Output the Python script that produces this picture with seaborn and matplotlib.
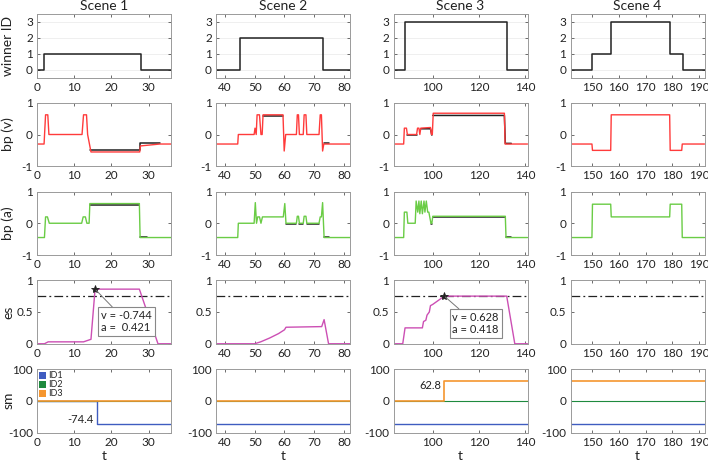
import numpy as np
import pandas as pd
import seaborn as sns
import matplotlib.pyplot as plt
from matplotlib.patches import Patch

scenes = ['Scene 1', 'Scene 2', 'Scene 3', 'Scene 4']
xlims = [(0, 36), (37, 82), (83, 141), (142, 192)]
xticks = [[0, 10, 20, 30], [40, 50, 60, 70, 80], [100, 120, 140], [150, 160, 170, 180, 190]]

# winner ID (step)
win_t = [[0, 2, 28, 36], [37, 45, 73, 82], [83, 88, 132, 141], [142, 150, 157, 179, 184, 192]]
win_v = [[0, 1, 0, 0], [0, 2, 0, 0], [0, 3, 0, 0], [0, 1, 3, 1, 0, 0]]

# bp (v) - red
bpv_t = [[0, 1.9, 2.3, 2.9, 3.2, 12.1, 12.5, 13.3, 13.6, 14.5, 27.6, 27.8, 33, 36],
         [37, 44.3, 44.5, 49.8, 50.1, 50.5, 50.8, 51.6, 52.1, 52.5, 52.8, 59.5, 59.9, 60.4, 64, 64.3, 64.7,
          65, 66.3, 66.6, 67.2, 67.5, 71.6, 72, 72.4, 72.8, 73.2, 82],
         [83, 87.4, 87.7, 88.6, 89, 93, 93.4, 94, 94.4, 94.8, 99, 99.4, 99.8, 100.2, 131, 131.3, 141],
         [142, 150, 150.2, 157, 157.2, 179, 179.2, 183.5, 183.7, 192]]
bpv_v = [[-0.3, -0.3, 0.62, 0.62, 0, 0, 0.62, 0.62, 0, -0.55, -0.55, -0.36, -0.3, -0.3],
         [-0.3, -0.3, 0, 0, 0.2, 0, 0.62, 0.62, 0, 0, 0.62, 0.62, -0.52, 0, 0, 0.62, 0.62,
          0, 0, 0.62, 0.62, 0, 0, 0.62, 0.62, -0.52, -0.3, -0.3],
         [-0.3, -0.3, 0.2, 0.2, 0, 0, 0.2, 0.2, 0, 0.2, 0.22, 0, 0, 0.67, 0.67, -0.3, -0.3],
         [-0.3, -0.3, -0.5, -0.5, 0.62, 0.62, -0.5, -0.5, -0.3, -0.3]]
# bp (v) - black reference, visible segments only
bpvk_t = [[[14.2, 27.6, 27.6, 33]],
          [[52.8, 59.5], [73.2, 75]],
          [[89, 93], [95, 99, 99.6], [100, 131, 131.4, 134]],
          []]
bpvk_v = [[[-0.48, -0.48, -0.28, -0.28]],
          [[0.59, 0.59], [-0.28, -0.28]],
          [[-0.02, -0.02], [0.18, 0.18, -0.02], [0.6, 0.6, -0.28, -0.28]],
          []]

# bp (a) - green
bpa_t = [[0, 2, 2.3, 2.8, 3.3, 12, 12.4, 13, 13.4, 14, 14.2, 27.5, 27.7, 36],
         [37, 44.3, 44.5, 49.8, 50.2, 50.6, 51, 51.6, 52.1, 52.6, 59.6, 60.1, 60.5, 64, 64.3, 64.7,
          65, 66.3, 66.6, 67.2, 67.5, 71.6, 72, 72.4, 72.8, 73.3, 82],
         [83, 87.4, 87.7, 88.8, 89.2, 92.4, 92.8, 93.5, 94, 94.4, 95, 95.5, 96.2, 96.6, 97.2, 97.8,
          98.3, 99.2, 99.6, 100, 131.4, 131.7, 141],
         [142, 150, 150.2, 157, 157.2, 179, 179.2, 183.5, 183.7, 192]]
bpa_v = [[-0.45, -0.45, 0.2, 0.2, 0, 0, 0.2, 0.2, 0, 0, 0.62, 0.62, -0.45, -0.45],
         [-0.45, -0.45, 0, 0, 0.65, 0, 0.2, 0.2, 0, 0.2, 0.2, 0.62, 0, 0, 0.22, 0.22,
          0, 0, 0.22, 0.22, 0, 0, 0.2, 0.2, 0.65, -0.45, -0.45],
         [-0.45, -0.45, 0.35, 0.35, 0, 0, 0.7, 0.35, 0.7, 0.3, 0.7, 0.3, 0.7, 0.35, 0.7, 0.35,
          0.35, 0, 0, 0.22, 0.22, -0.45, -0.45],
         [-0.45, -0.45, 0.6, 0.6, 0.2, 0.2, 0.6, 0.6, -0.45, -0.45]]
bpak_t = [[[14.2, 27.5], [27.7, 29.5]],
          [[60.5, 64], [65, 66.3], [67.5, 71.6], [73.3, 75]],
          [[99.2, 99.8], [100, 131.4], [131.7, 134]],
          []]
bpak_v = [[[0.58, 0.58], [-0.42, -0.42]],
          [[-0.02, -0.02], [-0.02, -0.02], [-0.02, -0.02], [-0.42, -0.42]],
          [[-0.02, -0.02], [0.19, 0.19], [-0.42, -0.42]],
          []]

# es - magenta
es_t = [[0, 2, 3, 12.5, 14.5, 15.6, 27.5, 32.5, 36],
        [37, 50, 52, 55, 58, 60, 60.5, 72.5, 73.3, 74.8, 82],
        [83, 87, 88, 95.5, 96, 97, 97.5, 98.5, 99, 100, 105, 132, 135.5, 141],
        []]
es_v = [[0, 0, 0.03, 0.03, 0.07, 0.86, 0.86, 0, 0],
        [0, 0, 0.03, 0.09, 0.16, 0.22, 0.26, 0.27, 0.38, 0, 0],
        [0, 0, 0.25, 0.25, 0.35, 0.37, 0.45, 0.5, 0.6, 0.62, 0.75, 0.75, 0, 0],
        []]
es_thr = 0.75
tip_xy = [(15.6, 0.86), None, (105, 0.75), None]
tip_text = ['v = -0.744\na =  0.421', None, 'v = 0.628\na = 0.418', None]
tip_box = [(17.2, 0.53), None, (108.5, 0.5), None]

# sm (step)
sm_t = [[0, 16, 36], [37, 82], [83, 105, 141], [142, 192]]
sm_id1 = [[0, -74.4, -74.4], [-74.4, -74.4], [-74.4, -74.4, -74.4], [-74.4, -74.4]]
sm_id2 = [[0, 0, 0], [0, 0], [0, 0, 0], [0, 0]]
sm_id3 = [[0, 0, 0], [0, 0], [0, 62.8, 62.8], [62.8, 62.8]]
sm_lbl = [('-74.4', 15.2, -60), None, ('62.8', 103.8, 49), None]

ylabels = ['winner ID', 'bp (v)', 'bp (a)', 'es', 'sm']
ylims = [(-0.5, 3.5), (-1, 1), (-1, 1), (0, 1), (-100, 100)]
yticks = [[0, 1, 2, 3], [-1, 0, 1], [-1, 0, 1], [0, 0.5, 1], [-100, 0, 100]]
ytlabels = [['0', '1', '2', '3'], ['-1', '0', '1'], ['-1', '0', '1'], ['0', '0.5', '1'], ['-100', '0', '100']]

c_red, c_grn, c_mag = '#ff3b3b', '#6acc45', '#cc4fb4'
c_id = ['#3f5cc0', '#1e8a3e', '#f5962f']

sns.set_style('ticks', {'xtick.direction': 'in', 'ytick.direction': 'in'})
plt.rcParams['font.family'] = ['Lato', 'DejaVu Sans']
plt.rcParams['font.size'] = 8.5


def line(ax, t, v, color, lw=1.0, step=False):
    if len(t) == 0:
        return
    df = pd.DataFrame({'t': t, 'v': v})
    kw = {'drawstyle': 'steps-post'} if step else {}
    sns.lineplot(data=df, x='t', y='v', ax=ax, color=color, lw=lw,
                 estimator=None, sort=False, **kw)


def segs(ax, ts, vs, color, lw=1.1):
    if len(ts) == 0:
        return
    df = pd.concat([pd.DataFrame({'t': t, 'v': v, 'seg': i}) for i, (t, v) in enumerate(zip(ts, vs))])
    sns.lineplot(data=df, x='t', y='v', units='seg', ax=ax, color=color, lw=lw,
                 estimator=None, sort=False)


fig = plt.figure(figsize=(7.08, 4.63), dpi=100)
lefts = [37, 216, 393.5, 570.5]
tops = [14 + i * 88.75 for i in range(5)]
W, H = 134, 63.5

for r in range(5):
    for c in range(4):
        ax = fig.add_axes([lefts[c] / 708, 1 - (tops[r] + H) / 463, W / 708, H / 463])
        if r == 0:
            ax.grid(axis='y', color='#ececec', lw=0.6)
            ax.set_axisbelow(True)
            line(ax, win_t[c], win_v[c], '#222222', 1.1, step=True)
            ax.set_title(scenes[c], fontsize=10, color='#222222', pad=3)
        elif r == 1:
            segs(ax, bpvk_t[c], bpvk_v[c], '#222222')
            line(ax, bpv_t[c], bpv_v[c], c_red, 1.0)
        elif r == 2:
            segs(ax, bpak_t[c], bpak_v[c], '#222222')
            line(ax, bpa_t[c], bpa_v[c], c_grn, 1.0)
        elif r == 3:
            ax.axhline(es_thr, color='#222222', lw=0.9, ls=(0, (7, 2.5, 1.5, 2.5)))
            line(ax, es_t[c], es_v[c], c_mag, 1.0)
            if tip_xy[c] is not None:
                ax.plot(*tip_xy[c], marker='*', color='#222222', ms=6, mew=0.6, ls='none')
                ax.annotate(tip_text[c], xy=tip_xy[c], xytext=tip_box[c], textcoords='data',
                            ha='left', va='top', fontsize=8, color='#222222', linespacing=1.1,
                            bbox=dict(boxstyle='square,pad=0.25', fc='white', ec='#888888', lw=0.8),
                            arrowprops=dict(arrowstyle='-', color='#777777', lw=0.7, shrinkA=0, shrinkB=1))
        else:
            line(ax, sm_t[c], sm_id1[c], c_id[0], 1.0, step=True)
            line(ax, sm_t[c], sm_id2[c], c_id[1], 0.8, step=True)
            line(ax, sm_t[c], sm_id3[c], c_id[2], 1.2, step=True)
            if sm_lbl[c] is not None:
                txt, tx, ty = sm_lbl[c]
                ax.text(tx, ty, txt, ha='right', va='center', fontsize=8, color='#222222')
            if c == 0:
                hs = [Patch(fc=col, ec='none') for col in c_id]
                ax.legend(hs, ['ID1', 'ID2', 'ID3'], loc='upper left', fontsize=6.5, frameon=False,
                          handlelength=0.8, handleheight=0.8, handletextpad=0.2, labelspacing=0.0,
                          borderaxespad=0.15, borderpad=0.1)
        ax.set_xlim(*xlims[c])
        ax.set_ylim(*ylims[r])
        ax.set_xticks(xticks[c])
        ax.set_yticks(yticks[r])
        ax.set_yticklabels(ytlabels[r])
        ax.set_xlabel('t' if r == 4 else '', fontsize=10, color='#222222', labelpad=2)
        ax.set_ylabel(ylabels[r] if c == 0 else '', fontsize=10, color='#222222')
        if c == 0:
            ax.yaxis.set_label_coords(-0.17, 0.5)
        ax.tick_params(labelsize=8.5, colors='#555555', labelcolor='#222222', length=2.5, width=0.6,
                       top=True, right=True, pad=3)
        for s in ax.spines.values():
            s.set_color('#9a9a9a')
            s.set_linewidth(0.7)

fig.savefig('out.png', dpi=100)
